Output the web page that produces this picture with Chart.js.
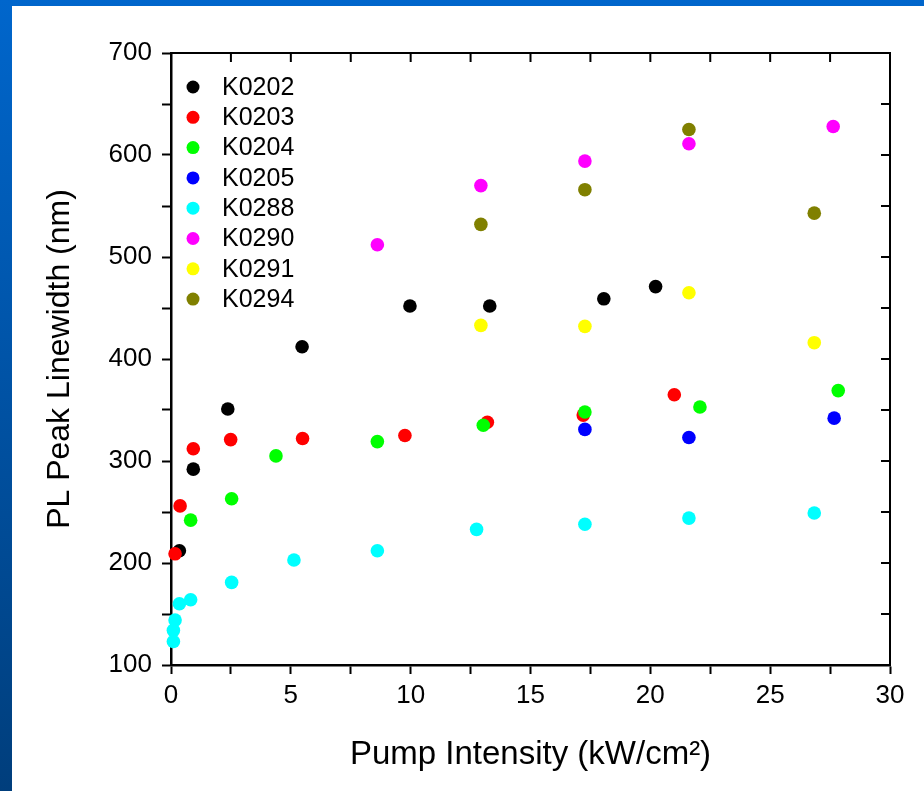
<!DOCTYPE html>
<html>
<head>
<meta charset="utf-8">
<title>PL Peak Linewidth vs Pump Intensity</title>
<script src="https://cdn.jsdelivr.net/npm/chart.js@4.4.1/dist/chart.umd.min.js"></script>
<style>
    html, body { margin: 0; padding: 0; }
    body {
        width: 924px; height: 791px; overflow: hidden; position: relative;
        background: linear-gradient(to bottom, #0066cc, #003e7c);
    }
    #frame { position: absolute; left: 12px; top: 6px; right: 0; bottom: 0; background: #fff; }
    #plot { position: absolute; left: 0; top: 0; }
</style>
</head>
<body>
<div id="frame"></div>
<canvas id="plot" width="924" height="791"></canvas>
<script>
"use strict";

// sample names and their marker colours
const seriesNames = ["K0202", "K0203", "K0204", "K0205", "K0288", "K0290", "K0291", "K0294"];
const seriesColors = ["#000000", "#ff0000", "#00ff00", "#0000ff", "#00ffff", "#ff00ff", "#ffff00", "#808000"];

// pump intensity (kW/cm2) and PL peak linewidth (nm)
const k0202X = [0.35, 0.93, 2.37, 5.47, 9.97, 13.3, 18.06, 20.22];
const k0202Y = [212, 292, 351, 412, 452, 452, 459, 471];

const k0203X = [0.17, 0.38, 0.93, 2.49, 5.49, 9.76, 13.2, 17.2, 21.0];
const k0203Y = [209, 256, 312, 321, 322, 325, 338, 345, 365];

const k0204X = [0.82, 2.53, 4.38, 8.61, 13.03, 17.27, 22.07, 27.84];
const k0204Y = [242, 263, 305, 319, 335, 348, 353, 369];

const k0205X = [17.27, 21.61, 27.67];
const k0205Y = [331, 323, 342];

const k0288X = [0.1, 0.1, 0.17, 0.35, 0.82, 2.53, 5.13, 8.61, 12.75, 17.27, 21.61, 26.84];
const k0288Y = [123, 134, 144, 160, 164, 181, 203, 212, 233, 238, 244, 249];

const k0290X = [8.61, 12.93, 17.27, 21.61, 27.63];
const k0290Y = [512, 570, 594, 611, 628];

const k0291X = [12.93, 17.27, 21.61, 26.84];
const k0291Y = [433, 432, 465, 416];

const k0294X = [12.93, 17.27, 21.61, 26.84];
const k0294Y = [532, 566, 625, 543];

const seriesX = [k0202X, k0203X, k0204X, k0205X, k0288X, k0290X, k0291X, k0294X];
const seriesY = [k0202Y, k0203Y, k0204Y, k0205Y, k0288Y, k0290Y, k0291Y, k0294Y];

// axis ranges and tick spacing
const xMin = 0, xMax = 30, xStep = 2.5, xLabelEvery = 5;
const yMin = 100, yMax = 700, yStep = 50, yLabelEvery = 100;

const xTitle = "Pump Intensity (kW/cm\u00B2)";
const yTitle = "PL Peak Linewidth (nm)";

Chart.defaults.font.family = "'Liberation Sans', Arial, sans-serif";
Chart.defaults.color = "#000";

// mirrored top/right axes with inward ticks, like the original plot frame
const frameAxes = {
    id: "frameAxes",
    afterDraw(chart) {
        const ctx = chart.ctx;
        const a = chart.chartArea;
        const tl = 9;
        ctx.save();
        ctx.strokeStyle = "#000";
        ctx.lineWidth = 2;
        ctx.beginPath();
        ctx.moveTo(a.left, a.top);
        ctx.lineTo(a.right, a.top);
        ctx.lineTo(a.right, a.bottom);
        chart.scales.x.ticks.forEach(t => {
            const px = chart.scales.x.getPixelForValue(t.value);
            ctx.moveTo(px, a.top);
            ctx.lineTo(px, a.top + tl);
        });
        chart.scales.y.ticks.forEach(t => {
            const py = chart.scales.y.getPixelForValue(t.value);
            ctx.moveTo(a.right, py);
            ctx.lineTo(a.right - tl, py);
        });
        ctx.stroke();
        ctx.restore();
    }
};

// legend drawn inside the plot, top-left
const insideLegend = {
    id: "insideLegend",
    afterDraw(chart) {
        const ctx = chart.ctx;
        const a = chart.chartArea;
        ctx.save();
        ctx.font = "25px 'Liberation Sans', Arial, sans-serif";
        ctx.textBaseline = "middle";
        chart.data.datasets.forEach((ds, i) => {
            const cy = a.top + 34 + i * 30.3;
            ctx.fillStyle = ds.backgroundColor;
            ctx.beginPath();
            ctx.arc(a.left + 22, cy, 6.5, 0, Math.PI * 2);
            ctx.fill();
            ctx.fillStyle = "#000";
            ctx.fillText(ds.label, a.left + 51, cy + 1);
        });
        ctx.restore();
    }
};

const datasets = seriesNames.map((name, i) => ({
    label: name,
    data: seriesX[i].map((x, j) => ({ x: x, y: seriesY[i][j] })),
    backgroundColor: seriesColors[i],
    borderColor: seriesColors[i],
    borderWidth: 0,
    pointRadius: 6.8,
    showLine: false,
    clip: false,
    order: seriesNames.length - i
}));

new Chart(document.getElementById("plot").getContext("2d"), {
    type: "scatter",
    data: { datasets: datasets },
    options: {
        responsive: false,
        animation: false,
        layout: { padding: { left: 0, top: 53, right: 34, bottom: 0 } },
        plugins: {
            legend: { display: false },
            tooltip: { enabled: false }
        },
        scales: {
            x: {
                type: "linear",
                min: xMin,
                max: xMax,
                afterFit(scale) { scale.height = 126; },
                border: { display: true, color: "#000", width: 2.5 },
                grid: { drawOnChartArea: false, drawTicks: true, tickLength: 9, tickWidth: 2, tickColor: "#000" },
                ticks: {
                    stepSize: xStep,
                    autoSkip: false,
                    maxRotation: 0,
                    padding: 6,
                    font: { size: 26 },
                    callback: v => (v % xLabelEvery === 0 ? v : "")
                },
                title: { display: true, text: xTitle, font: { size: 33 }, padding: { top: 0, bottom: 16 } }
            },
            y: {
                type: "linear",
                min: yMin,
                max: yMax,
                afterFit(scale) { scale.width = 171; },
                border: { display: true, color: "#000", width: 2.5 },
                grid: { drawOnChartArea: false, drawTicks: true, tickLength: 9, tickWidth: 2, tickColor: "#000" },
                ticks: {
                    stepSize: yStep,
                    autoSkip: false,
                    padding: 10,
                    font: { size: 26 },
                    callback: v => (v % yLabelEvery === 0 ? v : "")
                },
                title: { display: true, text: yTitle, font: { size: 32 }, padding: { top: 41, bottom: 0 } }
            }
        }
    },
    plugins: [frameAxes, insideLegend]
});
</script>
</body>
</html>
